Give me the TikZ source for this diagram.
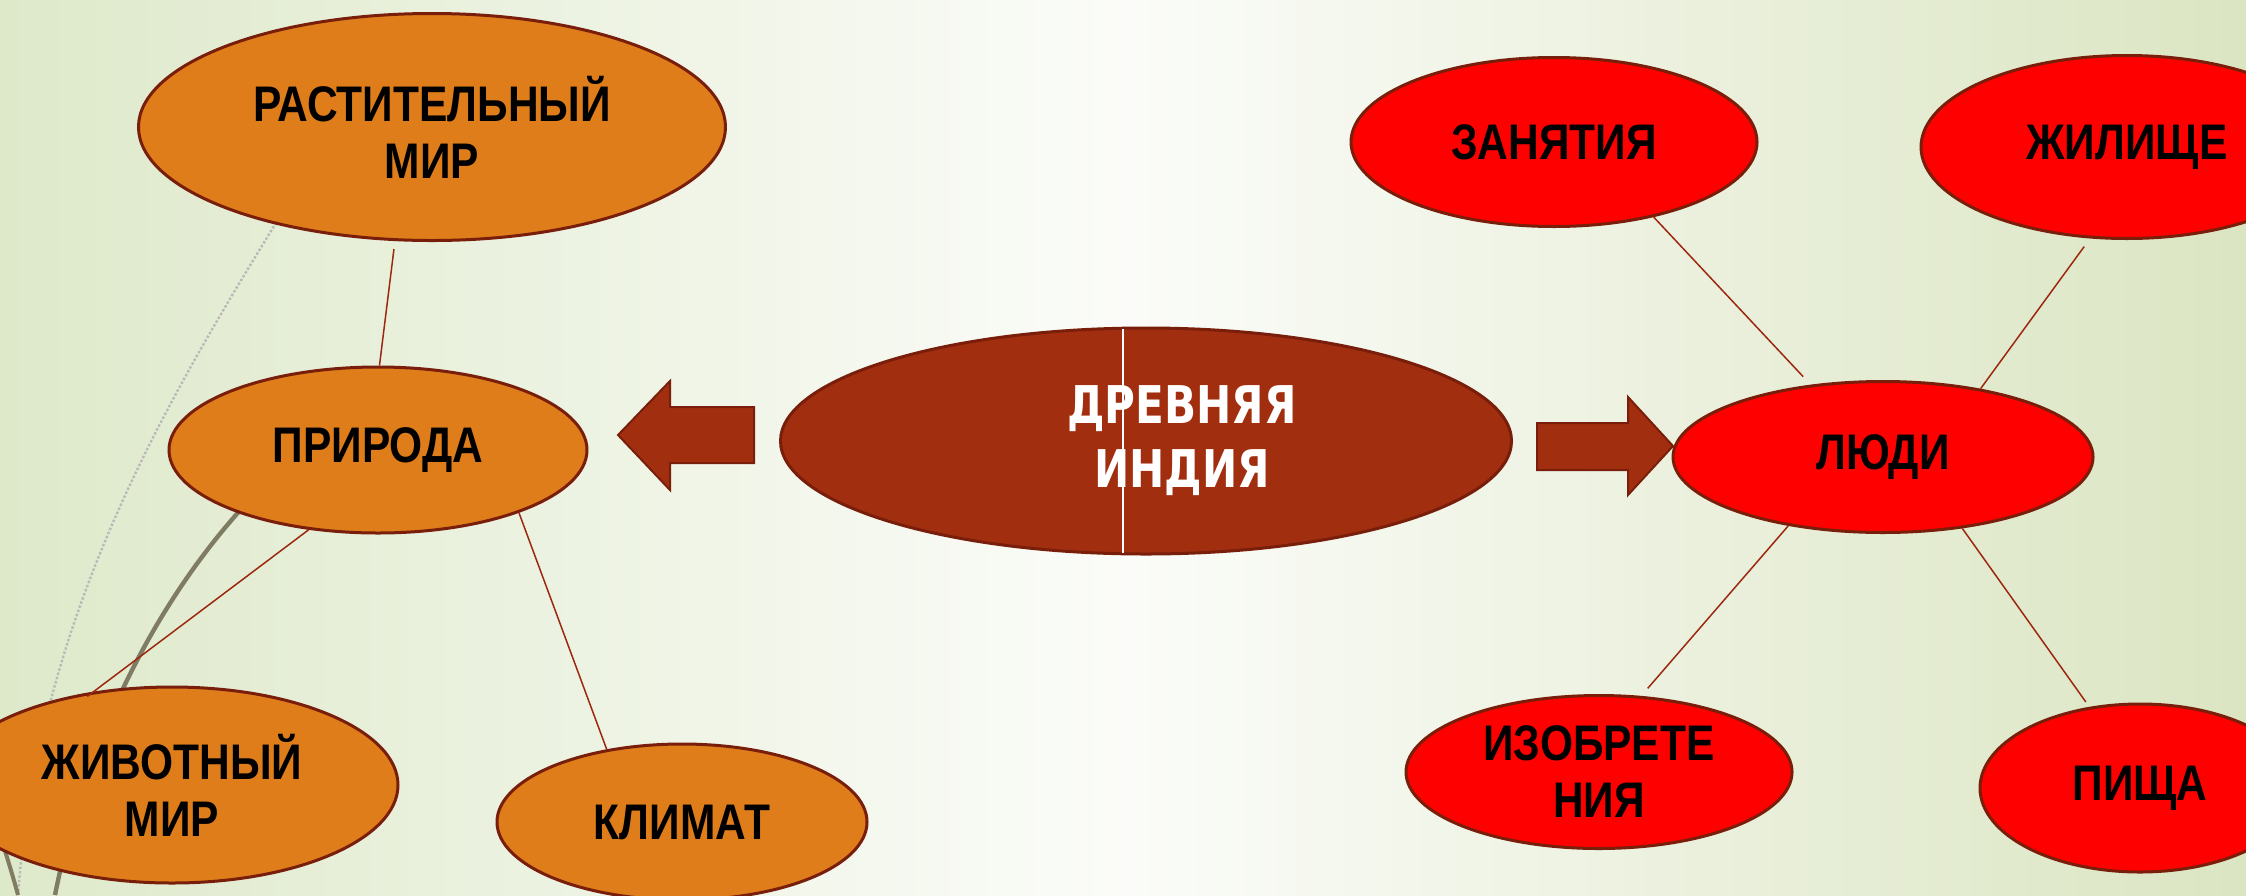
\documentclass[tikz,border=0pt]{standalone}
\usepackage{fontspec}
\setmainfont{Liberation Sans}[FakeStretch=0.85]
\newfontfamily\indiafont{DejaVu Sans}[FakeStretch=0.81]
\usetikzlibrary{shapes.geometric}

\definecolor{naturefill}{RGB}{222,125,26}
\definecolor{peoplefill}{RGB}{255,0,0}
\definecolor{indiafill}{RGB}{162,46,16}
\definecolor{edge}{RGB}{120,30,10}
\definecolor{wirecol}{RGB}{155,40,15}
\definecolor{sage}{RGB}{222,233,202}
\definecolor{sager}{RGB}{219,229,194}
\definecolor{paper}{RGB}{251,252,249}
\definecolor{deco}{RGB}{128,124,100}

\begin{document}
\begin{tikzpicture}[x=.5pt,y=-.5pt,
  oval/.style={ellipse,draw=edge,line width=1.5pt,inner sep=0pt,align=center,
    font=\fontsize{25}{28.5}\selectfont\bfseries},
  nature/.style={oval,fill=naturefill},
  people/.style={oval,fill=peoplefill},
  dims/.style 2 args={minimum width=#1pt,minimum height=#2pt},
  wire/.style={draw=wirecol,line width=.75pt},
  blockarrow/.style={fill=indiafill,draw=edge,line width=1pt,line join=miter}]

\useasboundingbox (0,0) rectangle (2246,895);
\clip (0,0) rectangle (2246,895);
\shade[left color=sage,right color=sager,middle color=paper] (0,0) rectangle (2246,895);

\draw[gray!55,line width=1.2pt,densely dotted] (290,200) .. controls (180,380) and (40,600) .. (18,895);
\draw[deco,line width=2.2pt] (262,487) .. controls (170,580) and (90,720) .. (55,895);
\draw[deco,line width=2pt] (0,835) .. controls (8,860) and (14,880) .. (18,895);

\draw[blockarrow] (754,407) -- (670,407) -- (670,381) -- (618,435) -- (670,490) -- (670,463) -- (754,463) -- cycle;
\draw[blockarrow] (1537,423) -- (1628,423) -- (1628,397) -- (1673,446) -- (1628,495) -- (1628,470) -- (1537,470) -- cycle;

\node[nature,dims={293.5}{113.5}] (rast)  at (432,127) {РАСТИТЕЛЬНЫЙ\\МИР};
\node[nature,dims={209}{83}]      (prir)  at (378,450) {ПРИРОДА};
\node[nature,dims={226}{98}]      (zhiv)  at (172,785) {ЖИВОТНЫЙ\\МИР};
\node[nature,dims={185}{78}]      (klim)  at (682,822) {КЛИМАТ};

\node[oval,fill=indiafill,text=white,dims={365.5}{113},
  font=\fontsize{26}{32}\selectfont\indiafont\bfseries] (india) at (1146,441)
  {\hspace*{36pt}ДРЕВНЯЯ\\\hspace*{36pt}ИНДИЯ};
\draw[white,line width=.6pt] (1123,329) -- (1123,553);

\node[people,dims={210}{75.5}] (ludi)  at (1883,457) {ЛЮДИ};
\node[people,dims={203}{84.5}] (zan)   at (1554,142) {ЗАНЯТИЯ};
\node[people,dims={206}{91.5}] (zhil)  at (2127,147) {ЖИЛИЩЕ};
\node[people,dims={193}{76.5}] (izob)  at (1599,772) {ИЗОБРЕТЕ\\НИЯ};
\node[people,dims={160}{84}]   (pisch) at (2140,788) {ПИЩА};

\foreach \a/\b/\p/\q in {rast.-108/prir.89/4/0, prir.-131/zhiv.130/0/-4,
    prir.-24/klim.136/0/0, ludi.135/zan.-37/5.5/0, ludi.35/zhil.-112/0/5,
    ludi.-144/izob.61/0/5, ludi.-42/pisch.122/0/3}
  \draw[wire,shorten <=\p pt,shorten >=\q pt] (\a) -- (\b);

\end{tikzpicture}
\end{document}
